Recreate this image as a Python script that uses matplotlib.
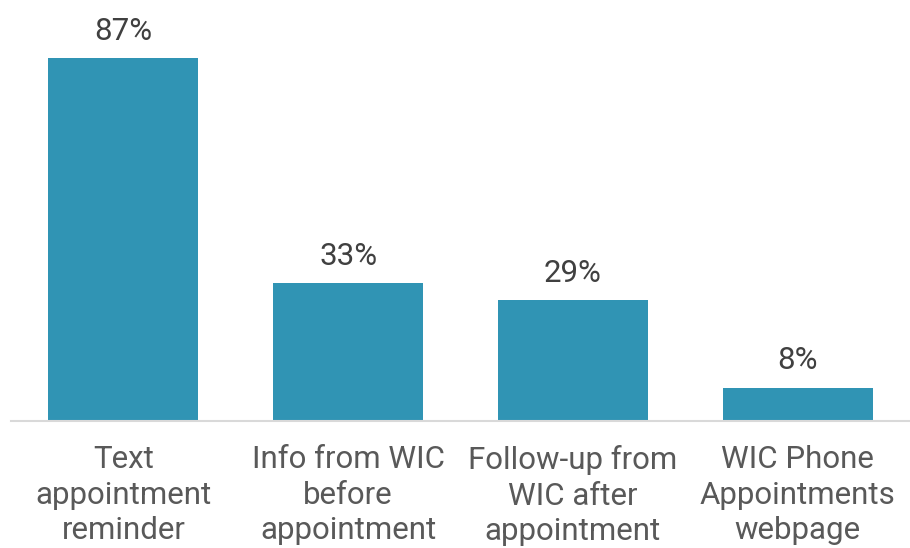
import matplotlib.pyplot as plt

categories = ["Text\nappointment\nreminder", "Info from WIC\nbefore\nappointment",
              "Follow-up from\nWIC after\nappointment", "WIC Phone\nAppointments\nwebpage"]
values = [87, 33, 29, 8]

plt.rcParams['font.family'] = ['Roboto', 'DejaVu Sans']

fig = plt.figure(figsize=(9.1, 5.48), dpi=100)
ax = fig.add_axes([11 / 910, 127 / 548, 899 / 910, 417 / 548])

x = range(len(values))
bars = ax.bar(x, values, width=0.667, color="#3094b4")

for b, v in zip(bars, values):
    ax.annotate(f"{v}%", (b.get_x() + b.get_width() / 2, v), xytext=(0, 9),
                textcoords="offset points", ha="center", va="bottom",
                fontsize=22.5, color="#404040")

ax.set_xlim(-0.5, 3.5)
ax.set_ylim(0, 100)
ax.set_xticks(list(x))
ax.set_xticklabels(categories, fontsize=22.5, color="#595959", linespacing=1.27)
ax.tick_params(axis="x", length=0, pad=17.5)
ax.set_yticks([])
for s in ["top", "right", "left"]:
    ax.spines[s].set_visible(False)
ax.spines["bottom"].set_color("#d9d9d9")
ax.spines["bottom"].set_linewidth(1.5)

fig.savefig("out.png", dpi=100)
